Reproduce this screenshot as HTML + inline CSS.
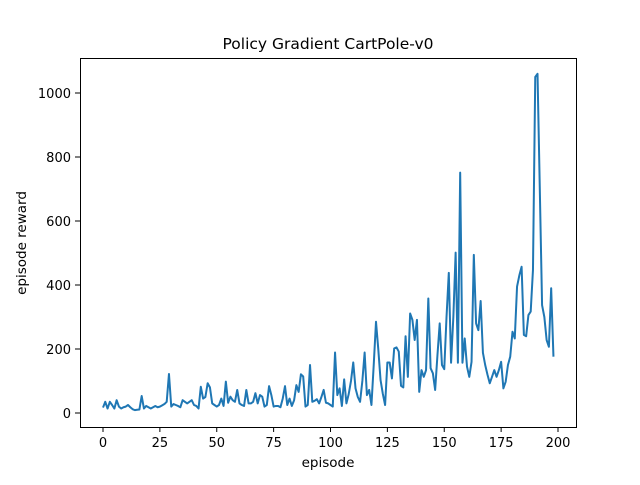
<!DOCTYPE html>
<html><head><meta charset="utf-8"><style>
body{margin:0;background:#fff;}
svg text{font-family:"DejaVu Sans","Liberation Sans",sans-serif;fill:#000;}
</style></head><body>
<svg id="chart" width="640" height="480" xmlns="http://www.w3.org/2000/svg">
<rect x="0" y="0" width="640" height="480" fill="#fff"/>
<text x="328" y="49" font-size="15.5" text-anchor="middle">Policy Gradient CartPole-v0</text>
<g id="ticks"></g>
<path id="line" fill="none" stroke="#1f77b4" stroke-width="2" stroke-linejoin="round"/>
<rect x="80.5" y="58.5" width="496" height="369" fill="none" stroke="#000" stroke-width="1"/>
<text x="328" y="467" font-size="13.5" text-anchor="middle">episode</text>
<text x="26" y="243" font-size="13.5" text-anchor="middle" transform="rotate(-90 26 243)">episode reward</text>
</svg>
<script>
const rewards = [17,35,14,35,25,14,40,20,14,18,20,25,18,12,9,10,11,53,14,22,18,14,18,22,18,20,24,28,35,122,20,28,25,22,18,40,35,30,35,40,25,22,14,82,45,50,93,80,30,25,20,25,45,22,98,32,51,40,35,72,30,25,22,72,30,30,35,62,30,56,51,20,25,84,56,20,22,22,18,45,84,25,45,22,40,87,66,121,114,20,25,150,35,38,43,30,50,72,32,30,25,20,189,56,77,22,105,30,59,100,158,77,50,35,100,189,56,72,25,150,285,200,103,60,25,158,158,108,202,205,192,85,80,240,113,311,291,228,291,66,134,113,134,358,140,124,72,180,280,150,137,300,438,157,300,501,157,751,157,233,145,113,160,494,280,259,350,188,150,120,93,113,134,113,134,160,77,98,150,176,254,233,395,430,457,244,240,306,317,447,1050,1060,700,337,300,228,207,390,176];
const xTicks = [0,25,50,75,100,125,150,175,200];
const yTicks = [0,200,400,600,800,1000];
const xs = v => 103 + v*2.275;
const ys = v => 413 - v*0.32;
const NS = "http://www.w3.org/2000/svg";
const g = document.getElementById('ticks');
xTicks.forEach(t=>{
  const l=document.createElementNS(NS,'line');
  l.setAttribute('x1',xs(t));l.setAttribute('x2',xs(t));l.setAttribute('y1',427);l.setAttribute('y2',432);l.setAttribute('stroke','#000');
  
  
  g.appendChild(l);
  const tx=document.createElementNS(NS,'text');
  tx.setAttribute('x',xs(t));tx.setAttribute('y',447);tx.setAttribute('font-size','13');tx.setAttribute('text-anchor','middle');
  tx.textContent=t;
  
  
  g.appendChild(tx);
});
yTicks.forEach(t=>{
  const l=document.createElementNS(NS,'line');
  l.setAttribute('x1',75);l.setAttribute('x2',80);l.setAttribute('y1',ys(t));l.setAttribute('y2',ys(t));l.setAttribute('stroke','#000');
  
  
  g.appendChild(l);
  const tx=document.createElementNS(NS,'text');
  tx.setAttribute('x',71);tx.setAttribute('y',ys(t)+5);tx.setAttribute('font-size','13');tx.setAttribute('text-anchor','end');
  tx.textContent=t;
  
  
  g.appendChild(tx);
});
document.getElementById('line').setAttribute('d', rewards.map((v,i)=>(i?'L':'M')+xs(i).toFixed(2)+' '+ys(v).toFixed(2)).join(' '));
</script>
</body></html>
